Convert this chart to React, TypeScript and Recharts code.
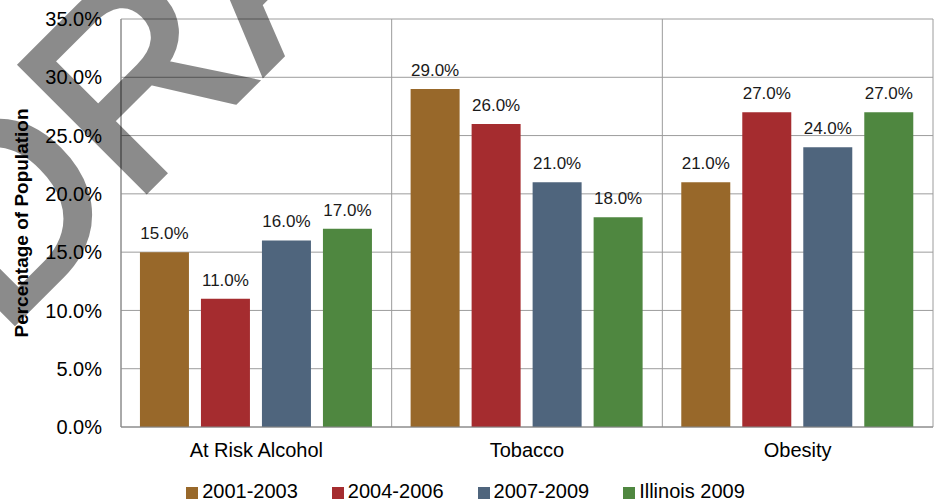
import React from 'react';
import { BarChart, Bar, XAxis, YAxis, CartesianGrid, Legend, LabelList } from 'recharts';

const categories = ['At Risk Alcohol', 'Tobacco', 'Obesity'];
const period2001 = [15, 29, 21];
const period2004 = [11, 26, 27];
const period2007 = [16, 21, 24];
const illinois2009 = [17, 18, 27];
const yTicks = [0, 5, 10, 15, 20, 25, 30, 35];

const series = [
  { key: 'p2001', name: '2001-2003', color: '#98682a' },
  { key: 'p2004', name: '2004-2006', color: '#a52c2f' },
  { key: 'p2007', name: '2007-2009', color: '#4f657d' },
  { key: 'il2009', name: 'Illinois 2009', color: '#4f8740' },
];

const data = categories.map((category, i) => ({
  category,
  p2001: period2001[i],
  p2004: period2004[i],
  p2007: period2007[i],
  il2009: illinois2009[i],
}));

const FONT = '"Liberation Sans", Arial, sans-serif';
const pct = (v: any) => `${Number(v).toFixed(1)}%`;

const YTitle = ({ viewBox }: any) => {
  const cx = viewBox.x + 21;
  const cy = viewBox.y + viewBox.height / 2;
  return (
    <text
      x={cx}
      y={cy}
      transform={`rotate(-90 ${cx} ${cy})`}
      textAnchor="middle"
      dominantBaseline="central"
      fontSize={19}
      fontWeight="bold"
      fill="#000"
      fontFamily={FONT}
    >
      Percentage of Population
    </text>
  );
};

// vertical grid lines sit on the category boundaries, like Excel
const boundaryLines = ({ offset }: any) =>
  Array.from({ length: categories.length + 1 }, (_, i) => offset.left + (i * offset.width) / categories.length);

const App = () => {
  return (
    <div style={{ position: 'absolute', left: 0, top: 0, width: 941, height: 503, background: '#fff', fontFamily: FONT }}>
      <BarChart
        width={941}
        height={503}
        data={data}
        margin={{ top: 19, right: 8, left: 0, bottom: 0 }}
        barCategoryGap="7%"
        barGap={12}
      >
        <CartesianGrid stroke="#9c9c9c" verticalCoordinatesGenerator={boundaryLines} />
        <XAxis
          dataKey="category"
          interval={0}
          tickLine={false}
          tickSize={0}
          tickMargin={16}
          height={76}
          axisLine={{ stroke: '#868686' }}
          tick={{ fontSize: 20, fill: '#000', fontFamily: FONT }}
        />
        <YAxis
          width={121}
          domain={[0, 35]}
          ticks={yTicks}
          tickFormatter={pct}
          tickLine={false}
          tickSize={0}
          tickMargin={19}
          axisLine={{ stroke: '#868686' }}
          tick={{ fontSize: 20, fill: '#000', fontFamily: FONT }}
          label={YTitle}
        />
        <Legend
          verticalAlign="middle"
          align="center"
          iconType="square"
          iconSize={12}
          wrapperStyle={{ top: 480, left: 0, width: 941, fontSize: 20, fontFamily: FONT }}
          formatter={(value: any, _entry: any, index: number) => (
            <span style={{ color: '#000', marginRight: index < series.length - 1 ? 24 : 0 }}>{value}</span>
          )}
        />
        {series.map((s) => (
          <Bar key={s.key} dataKey={s.key} name={s.name} fill={s.color} isAnimationActive={false}>
            <LabelList
              dataKey={s.key}
              position="top"
              offset={13}
              formatter={pct}
              style={{ fontSize: 17, fill: '#1a1a1a', fontFamily: FONT }}
            />
          </Bar>
        ))}
      </BarChart>
      <svg
        width={941}
        height={503}
        style={{ position: 'absolute', left: 0, top: 0, pointerEvents: 'none' }}
      >
        <g opacity={0.45}>
          <text
            x={0}
            y={337}
            transform="rotate(-45 0 337)"
            fontSize={258}
            fontFamily={FONT}
            fill="#000"
            stroke="#000"
            strokeWidth={6}
          >
            DRAFT
          </text>
        </g>
      </svg>
    </div>
  );
};

export default App;
